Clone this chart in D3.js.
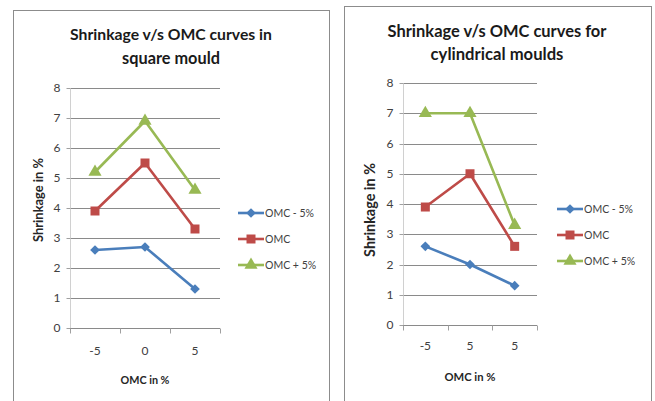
<!DOCTYPE html>
<html><head><meta charset="utf-8">
<script src="https://cdn.jsdelivr.net/npm/d3@7"></script>
<style>body{margin:0;background:#fff}svg{display:block}text{font-family:Lato,"Open Sans",sans-serif}</style>
</head><body><svg id="c" width="655" height="401"></svg>
<script>
const seriesNames = ["OMC - 5%", "OMC", "OMC + 5%"];
const seriesColors = ["#4a7ebb", "#be4b48", "#98b954"];
const yTickValues = [0, 1, 2, 3, 4, 5, 6, 7, 8];
const squareCategories = ["-5", "0", "5"];
const squareMinus5 = [2.6, 2.7, 1.3];
const squareOMC = [3.9, 5.5, 3.3];
const squarePlus5 = [5.2, 6.9, 4.6];
const cylCategories = ["-5", "5", "5"];
const cylMinus5 = [2.6, 2.0, 1.3];
const cylOMC = [3.9, 5.0, 2.6];
const cylPlus5 = [7.0, 7.0, 3.3];

const svg = d3.select("#c");
const markerTypes = [d3.symbolDiamond2 || d3.symbolDiamond, d3.symbolSquare, d3.symbolTriangle];
const markerSizes = [60, 81, 75];

function fitText(sel, target) {
  const w = sel.node().getComputedTextLength();
  const fs = parseFloat(sel.attr("font-size"));
  const nfs = fs * target / w;
  sel.attr("font-size", nfs);
  return nfs;
}

function drawChart(cfg) {
  const g = svg.append("g");
  g.append("rect").attr("x", cfg.frame[0] + 0.5).attr("y", cfg.frame[1] + 0.5)
    .attr("width", cfg.frame[2]).attr("height", 420)
    .attr("fill", "#fff").attr("stroke", "#8c8c8c").attr("stroke-width", 1);

  const [px0, px1, py0, py1] = cfg.plot;
  const x = d3.scaleBand().domain(d3.range(cfg.categories.length)).range([px0, px1]);
  const y = d3.scaleLinear().domain([0, 8]).range([py1, py0]);

  g.append("g").selectAll("line").data(yTickValues.filter(v => v > 0)).join("line")
    .attr("x1", px0).attr("x2", px1)
    .attr("y1", d => Math.round(y(d)) + 0.5).attr("y2", d => Math.round(y(d)) + 0.5)
    .attr("stroke", "#8a8a8a").attr("stroke-width", 1);

  const ya = g.append("g").attr("transform", `translate(${px0 + 0.5},0)`)
    .call(d3.axisLeft(y).tickValues(yTickValues).tickSize(4).tickPadding(6).tickFormat(d3.format("d")));
  ya.select(".domain").attr("stroke", "#d0d0d0").attr("d", `M0,${py0}V${Math.round(y(0)) + 0.5}`);
  ya.selectAll(".tick line").attr("stroke", "#a0a0a0");
  ya.selectAll(".tick").attr("transform", d => `translate(0,${Math.round(y(d)) + 0.5})`);
  ya.selectAll("text").attr("font-size", 12).attr("fill", "#404040").attr("font-family", "Lato");

  const y0 = Math.round(y(0)) + 0.5;
  const xa = g.append("g").attr("transform", `translate(0,${y0})`)
    .call(d3.axisBottom(x).tickFormat(i => cfg.categories[i]).tickSize(0).tickPadding(cfg.tickPad));
  xa.select(".domain").attr("stroke", "#8a8a8a").attr("d", `M${px0},0H${px1}`);
  xa.selectAll("text").attr("font-size", 12).attr("fill", "#404040").attr("font-family", "Lato");
  const bounds = [0, 1, 2, 3].map(i => px0 + i * x.step());
  g.append("g").selectAll("line").data(bounds).join("line")
    .attr("x1", d => Math.round(d) + 0.5).attr("x2", d => Math.round(d) + 0.5)
    .attr("y1", y0).attr("y2", y0 + 5).attr("stroke", "#a0a0a0");

  const line = d3.line().x((d, i) => x(i) + x.bandwidth() / 2).y(d => y(d));
  cfg.series.forEach((vals, s) => {
    g.append("path").datum(vals).attr("d", line).attr("fill", "none")
      .attr("stroke", seriesColors[s]).attr("stroke-width", 2.6).attr("stroke-linejoin", "round");
    g.append("g").selectAll("path").data(vals).join("path")
      .attr("transform", (d, i) => `translate(${x(i) + x.bandwidth() / 2},${y(d)})`)
      .attr("d", d3.symbol(markerTypes[s], markerSizes[s])).attr("fill", seriesColors[s]);
  });

  cfg.title.forEach((t, i) => {
    const tx = g.append("text").attr("x", cfg.titlePos[0]).attr("y", cfg.titlePos[1] + i * cfg.titleGap)
      .attr("text-anchor", "middle").attr("font-size", 16).attr("font-weight", "bold")
      .attr("fill", "#1a1a1a").text(t);
    fitText(tx, cfg.titleWidths[i]);
  });

  const yl = g.append("text").attr("transform", `translate(${cfg.yLabel[0]},${cfg.yLabel[1]}) rotate(-90)`)
    .attr("text-anchor", "middle").attr("dy", "0.35em").attr("font-size", 11).attr("font-weight", "bold")
    .attr("fill", "#262626").text("Shrinkage in %");
  fitText(yl, cfg.yLabel[2]);
  const xl = g.append("text").attr("x", (px0 + px1) / 2).attr("y", cfg.xLabelY)
    .attr("text-anchor", "middle").attr("font-size", 11).attr("font-weight", "bold")
    .attr("fill", "#262626").text("OMC in %");
  fitText(xl, cfg.xLabelW);

  const [lx, ly, lgap] = cfg.legend;
  let legendSize = 12;
  seriesNames.forEach((n, s) => {
    const yy = ly + s * lgap;
    g.append("line").attr("x1", lx).attr("x2", lx + 26).attr("y1", yy).attr("y2", yy)
      .attr("stroke", seriesColors[s]).attr("stroke-width", 2.6);
    g.append("path").attr("transform", `translate(${lx + 13},${yy})`)
      .attr("d", d3.symbol(markerTypes[s], markerSizes[s])).attr("fill", seriesColors[s]);
    const t = g.append("text").attr("x", lx + 27).attr("y", yy).attr("dy", "0.35em")
      .attr("font-size", legendSize).attr("fill", "#404040").text(n);
    if (s === 0) legendSize = fitText(t, 49);
  });
}

drawChart({
  frame: [13, 10, 316],
  plot: [70, 220, 88, 328],
  categories: squareCategories,
  series: [squareMinus5, squareOMC, squarePlus5],
  title: ["Shrinkage v/s OMC curves in", "square mould"],
  titleWidths: [202, 98],
  titlePos: [171, 40],
  titleGap: 24,
  yLabel: [38, 200, 84],
  xLabelY: 384,
  xLabelW: 49,
  tickPad: 18,
  legend: [238, 213, 26]
});

drawChart({
  frame: [344, 6, 307],
  plot: [403, 537, 83, 325],
  categories: cylCategories,
  series: [cylMinus5, cylOMC, cylPlus5],
  title: ["Shrinkage v/s OMC curves for", "cylindrical moulds"],
  titleWidths: [219, 133],
  titlePos: [497, 37],
  titleGap: 23,
  yLabel: [370, 210, 94],
  xLabelY: 381,
  xLabelW: 51,
  tickPad: 16,
  legend: [557, 209, 26]
});
</script></body></html>
